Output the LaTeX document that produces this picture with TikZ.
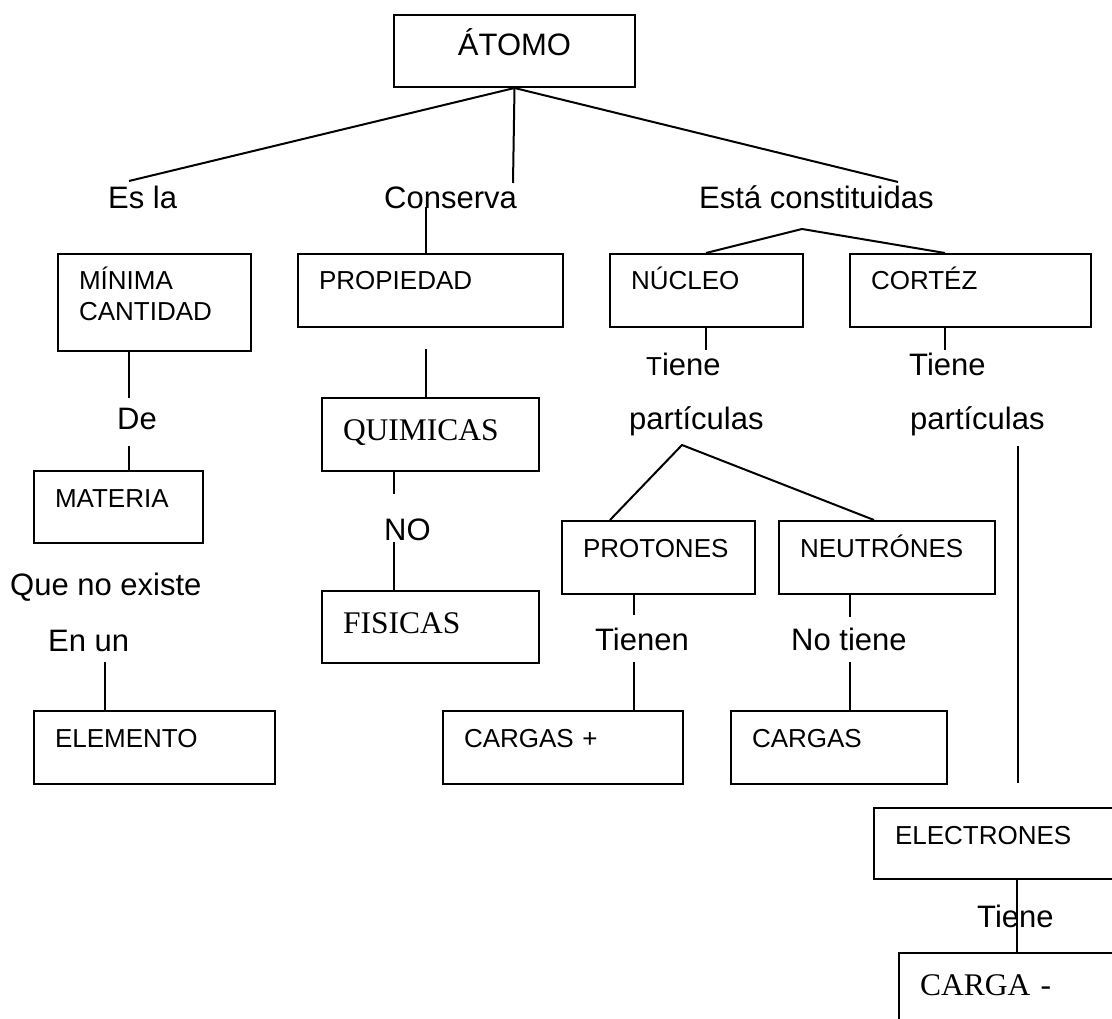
\documentclass[tikz,border=0pt]{standalone}
\usepackage{fontspec}
\setmainfont{Liberation Sans}
\newfontfamily\serifface{Liberation Serif}

\begin{document}
\begin{tikzpicture}[x=1pt, y=-1pt]
    % Styles
    \tikzstyle{box} = [draw, line width=2pt, anchor=north west, inner xsep=21pt, inner ysep=0pt, text height=36pt, align=left, font=\fontsize{26}{31}\selectfont]
    \tikzstyle{serif box} = [box, text height=42pt, font=\serifface\fontsize{31.5}{37}\selectfont]
    \tikzstyle{title box} = [box, align=center, text height=41pt, font=\fontsize{31}{37}\selectfont]
    \tikzstyle{word} = [anchor=base west, inner sep=1pt, font=\fontsize{31}{37}\selectfont]
    \tikzstyle{link} = [line width=2pt]

    \clip (0, 0) rectangle (1112, 1019);

    % Boxes
    \node[title box, text width=199pt, text depth=31pt] (atomo) at (393, 14) {ÁTOMO};
    \node[box, text width=151pt, text depth=61pt] (minima) at (57, 253) {MÍNIMA\\CANTIDAD};
    \node[box, text width=223pt, text depth=37pt] (propiedad) at (297, 253) {PROPIEDAD};
    \node[box, text width=151pt, text depth=37pt] (nucleo) at (609, 253) {NÚCLEO};
    \node[box, text width=199pt, text depth=37pt] (corteza) at (849, 253) {CORTÉZ};
    \node[box, text width=127pt, text depth=36pt] (materia) at (33, 470) {MATERIA};
    \node[serif box, text width=175pt, text depth=31pt] (quimicas) at (321, 397) {QUIMICAS};
    \node[serif box, text width=175pt, text depth=30pt] (fisicas) at (321, 590) {FISICAS};
    \node[box, text width=151pt, text depth=37pt] (protones) at (561, 520) {PROTONES};
    \node[box, text width=174pt, text depth=37pt] (neutrones) at (778, 520) {NEUTRÓNES};
    \node[box, text width=199pt, text depth=37pt] (elemento) at (33, 710) {ELEMENTO};
    \node[box, text width=198pt, text depth=37pt] (cargasmas) at (442, 710) {CARGAS +};
    \node[box, text width=174pt, text depth=37pt] (cargas) at (730, 710) {CARGAS};
    \node[box, text width=218pt, text depth=35pt] (electrones) at (873, 807) {ELECTRONES};
    \node[serif box, text width=198pt, text depth=58pt] (cargamenos) at (898, 952) {CARGA -};

    % Words
    \node[word] (esla) at (107, 209) {Es la};
    \node[word] (conserva) at (383, 209) {Conserva};
    \node[word] (esta) at (698, 209) {Está constituidas};
    \node[word] (tiene1) at (645, 375) {{\fontsize{26}{31}\selectfont T}iene};
    \node[word] (tiene2) at (908, 375) {Tiene};
    \node[word] (part1) at (628, 429) {partículas};
    \node[word] (part2) at (909, 429) {partículas};
    \node[word] (de) at (116, 429) {De};
    \node[word] (queno) at (9, 595) {Que no existe};
    \node[word] (enun) at (47, 651) {En un};
    \node[word] (no) at (383, 540) {NO};
    \node[word] (tienen) at (594, 650) {Tienen};
    \node[word] (notiene) at (790, 650) {No tiene};
    \node[word] (tiene3) at (976, 927) {Tiene};

    % Free ends and hubs
    \coordinate (esla-top) at (129, 181);
    \coordinate (conserva-top) at (513, 183);
    \coordinate (esta-top) at (898, 182);
    \coordinate (conserva-in) at (426, 207);
    \coordinate (esta-hub) at (802, 229);
    \coordinate (nucleo-end) at (706, 350);
    \coordinate (corteza-end) at (945, 350);
    \coordinate (part-hub) at (682, 445);
    \coordinate (part-top) at (1018, 446);
    \coordinate (part-bottom) at (1018, 783);
    \coordinate (minima-end) at (129, 398);
    \coordinate (de-end) at (129, 446);
    \coordinate (enun-end) at (105, 662);
    \coordinate (prop-end) at (426, 349);
    \coordinate (quim-end) at (394, 494);
    \coordinate (no-in) at (394, 542);
    \coordinate (prot-end) at (634, 615);
    \coordinate (tienen-end) at (634, 662);
    \coordinate (neut-end) at (850, 617);
    \coordinate (notiene-end) at (850, 662);

    % Links
    \draw[link] (atomo.south) -- (esla-top);
    \draw[link] (atomo.south) -- (conserva-top);
    \draw[link] (atomo.south) -- (esta-top);
    \draw[link] (propiedad.north -| conserva-in) -- (conserva-in);
    \draw[link] (nucleo.north -| nucleo-end) -- (esta-hub) -- (corteza.north -| corteza-end);
    \draw[link] (nucleo.south -| nucleo-end) -- (nucleo-end);
    \draw[link] (corteza.south -| corteza-end) -- (corteza-end);
    \draw[link] ([xshift=49pt]protones.north west) -- (part-hub) -- ([xshift=96pt]neutrones.north west);
    \draw[link] (part-top) -- (part-bottom);
    \draw[link] (protones.south -| prot-end) -- (prot-end);
    \draw[link] (tienen-end) -- (cargasmas.north -| tienen-end);
    \draw[link] (neutrones.south -| neut-end) -- (neut-end);
    \draw[link] (notiene-end) -- (cargas.north -| notiene-end);
    \draw[link] (minima.south -| minima-end) -- (minima-end);
    \draw[link] (de-end) -- (materia.north -| de-end);
    \draw[link] (enun-end) -- (elemento.north -| enun-end);
    \draw[link] (prop-end) -- (quimicas.north -| prop-end);
    \draw[link] (quimicas.south -| quim-end) -- (quim-end);
    \draw[link] (no-in) -- (fisicas.north -| no-in);
    \draw[link] ([xshift=144pt]electrones.south west) -- ([xshift=119pt]cargamenos.north west);
\end{tikzpicture}
\end{document}
